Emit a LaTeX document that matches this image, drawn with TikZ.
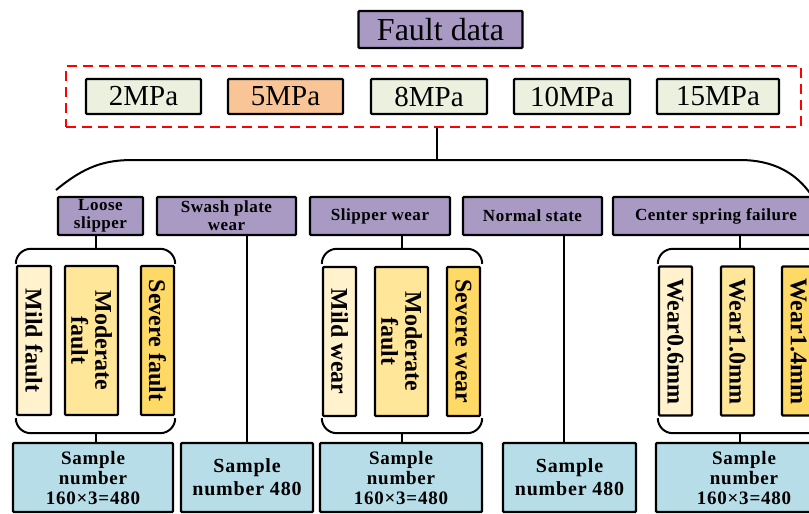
\documentclass[tikz,border=0pt]{standalone}
\usepackage{fontspec}
\setmainfont{Liberation Serif}
\definecolor{purp}{HTML}{A99AC4}
\definecolor{lgreen}{HTML}{EBF1DE}
\definecolor{lorange}{HTML}{F9C596}
\definecolor{yel1}{HTML}{FFF2CC}
\definecolor{yel2}{HTML}{FFE699}
\definecolor{yel3}{HTML}{FFD966}
\definecolor{lblue}{HTML}{B7DEE8}
\tikzset{
  box/.style={draw=black, line width=2.4pt, rounded corners=1pt, inner sep=0pt, align=center},
  titlebox/.style={box, fill=purp, minimum width=164pt, minimum height=37pt, font=\fontsize{32}{32}\selectfont},
  pbox/.style={box, fill=lgreen, minimum height=35pt, font=\fontsize{29}{29}\selectfont},
  catbox/.style={box, fill=purp, minimum height=38pt, font=\fontsize{17}{18}\selectfont\bfseries\addfontfeature{LetterSpace=3}},
  fbox/.style={box, rotate=-90, minimum width=149pt, font=\fontsize{24}{24}\selectfont\bfseries},
  sbox/.style={box, fill=lblue, minimum height=69pt, font=\fontsize{19}{20}\selectfont\bfseries\addfontfeature{LetterSpace=4}},
  sbox2/.style={sbox, font=\fontsize{20}{23}\selectfont\bfseries\addfontfeature{LetterSpace=4}},
  brk/.style={inner sep=0pt, minimum height=184pt},
  conn/.style={draw=black, line width=2pt},
  brkline/.style={draw=black, line width=2pt, rounded corners=15pt},
}
\begin{document}
\begin{tikzpicture}[x=1pt, y=-1pt]
\useasboundingbox (0,0) rectangle (809,514);
\clip (0,0) rectangle (809,514);
% title
\node[titlebox] (fd) at (440.5,29.5) {Fault data};
% dashed group
\node[draw=red, dashed, dash pattern=on 10pt off 6pt, line width=1.5pt, minimum width=735pt, minimum height=61pt, inner sep=0pt] (grp) at (433.5,96.5) {};
\node[pbox, minimum width=115pt] (p2) at (143.5,96.5) {2MPa};
\node[pbox, minimum width=115pt, fill=lorange] (p5) at (285.5,96.5) {5MPa};
\node[pbox, minimum width=116pt] (p8) at (429,96.5) {8MPa};
\node[pbox, minimum width=116pt] (p10) at (572,96.5) {10MPa};
\node[pbox, minimum width=122pt] (p15) at (718,96.5) {15MPa};
% top arc
\coordinate (tl) at (437,160);
\coordinate (cl) at (56,190);
\coordinate (cr) at (812,196);
\draw[conn] (grp.south -| tl) -- (tl);
\draw[conn] (cl) .. controls (85,166) and (105,160) .. (133,160) -- (740,160) .. controls (772,160) and (796,172) .. (cr);
% categories
\node[catbox, minimum width=85pt] (loose) at (100.5,216) {Loose\\slipper};
\node[catbox, minimum width=139pt] (swash) at (226.5,216) {Swash plate\\wear};
\node[catbox, minimum width=140pt] (slip) at (380,216) {Slipper wear};
\node[catbox, minimum width=139pt] (normal) at (532.5,216) {Normal state};
\node[catbox, minimum width=206pt] (spring) at (716,216) {Center spring failure};
% brackets
\node[brk, minimum width=159pt] (b1) at (95.5,341) {};
\node[brk, minimum width=160pt] (b2) at (402,341) {};
\node[brk, minimum width=164pt] (b3) at (740,341) {};
\foreach \b in {b1,b2,b3}{
  \draw[brkline] ([yshift=-15pt]\b.north west) -- (\b.north west) -- (\b.north east) -- ([yshift=-15pt]\b.north east);
  \draw[brkline] ([yshift=15pt]\b.south west) -- (\b.south west) -- (\b.south east) -- ([yshift=15pt]\b.south east);
}
% fault level boxes
\node[fbox, fill=yel1, minimum height=34pt] (f11) at (34,340.5) {Mild fault};
\node[fbox, fill=yel2, minimum height=53pt] (f12) at (91.5,340.5) {Moderate\\fault};
\node[fbox, fill=yel3, minimum height=33pt] (f13) at (157.5,340.5) {Severe fault};
\node[fbox, fill=yel1, minimum height=33pt] (f21) at (339.5,341.5) {Mild wear};
\node[fbox, fill=yel2, minimum height=53pt] (f22) at (401.5,341.5) {Moderate\\fault};
\node[fbox, fill=yel3, minimum height=33pt] (f23) at (463.5,341.5) {Severe wear};
\node[fbox, fill=yel1, minimum height=33pt] (f31) at (675.5,341) {Wear0.6mm};
\node[fbox, fill=yel2, minimum height=33pt] (f32) at (737.5,341) {Wear1.0mm};
\node[fbox, fill=yel3, minimum height=33pt] (f33) at (798.5,341) {Wear1.4mm};
% sample boxes
\node[sbox, minimum width=160pt] (s1) at (93,477.5) {Sample\\number\\160×3=480};
\node[sbox2, minimum width=132pt] (s2) at (247,477.5) {Sample\\number 480};
\node[sbox, minimum width=162pt] (s3) at (401,477.5) {Sample\\number\\160×3=480};
\node[sbox2, minimum width=133pt] (s4) at (569.5,477.5) {Sample\\number 480};
\node[sbox, minimum width=176pt] (s5) at (744,477.5) {Sample\\number\\160×3=480};
% connectors
\draw[conn] (loose.south -| b1.north) -- (b1.north);
\draw[conn] (b1.south) -- (b1.south |- s1.north);
\draw[conn] (swash.south -| s2.north) -- (s2.north);
\draw[conn] (slip.south -| b2.north) -- (b2.north);
\draw[conn] (b2.south) -- (b2.south |- s3.north);
\draw[conn] ([xshift=-6pt]s4.north |- normal.south) -- ([xshift=-6pt]s4.north);
\draw[conn] (spring.south -| b3.north) -- (b3.north);
\draw[conn] (b3.south) -- (b3.south |- s5.north);
\end{tikzpicture}
\end{document}
